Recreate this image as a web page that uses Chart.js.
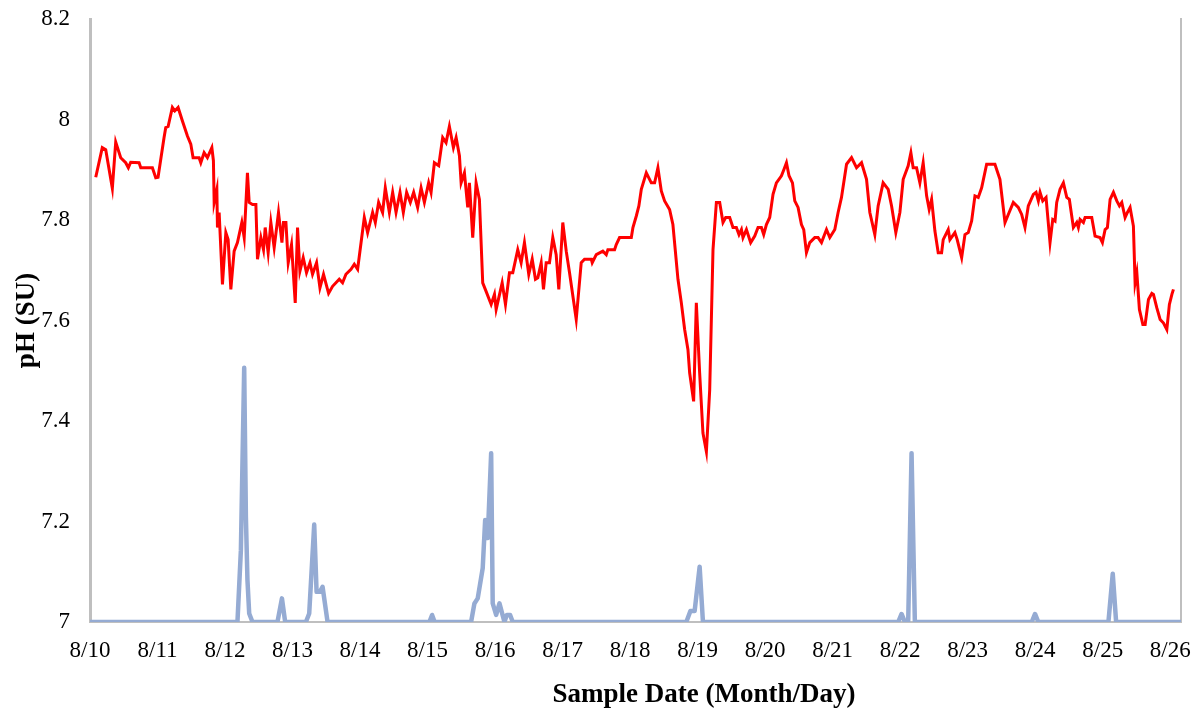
<!DOCTYPE html>
<html>
<head>
<meta charset="utf-8">
<script src="https://cdn.jsdelivr.net/npm/chart.js@4.4.1/dist/chart.umd.min.js"></script>
<style>
  html, body { margin: 0; padding: 0; background: #fff; }
  #wrap { width: 1196px; height: 716px; }
</style>
</head>
<body>
<div id="wrap"><canvas id="phChart" width="1196" height="716"></canvas></div>
<script>
// x values are days after 8/10 00:00
const dateLabels = ['8/10', '8/11', '8/12', '8/13', '8/14', '8/15', '8/16', '8/17', '8/18',
    '8/19', '8/20', '8/21', '8/22', '8/23', '8/24', '8/25', '8/26'];

const phDays = [0.085, 0.182, 0.233, 0.331, 0.381, 0.455, 0.529, 0.568, 0.603, 0.727, 0.752, 0.924, 0.974,
    1.008, 1.097, 1.122, 1.157, 1.220, 1.256, 1.305, 1.369, 1.443, 1.493, 1.527, 1.616, 1.641, 1.690, 1.739,
    1.805, 1.828, 1.839, 1.879, 1.888, 1.913, 1.962, 2.012, 2.046, 2.086, 2.135, 2.184, 2.249, 2.284, 2.332,
    2.358, 2.407, 2.457, 2.481, 2.531, 2.570, 2.595, 2.639, 2.679, 2.728, 2.792, 2.843, 2.866, 2.902, 2.936,
    2.985, 3.040, 3.074, 3.109, 3.158, 3.207, 3.258, 3.296, 3.356, 3.406, 3.459, 3.534, 3.593, 3.692, 3.741,
    3.791, 3.866, 3.915, 3.964, 4.063, 4.112, 4.186, 4.226, 4.275, 4.334, 4.374, 4.434, 4.483, 4.533, 4.592,
    4.641, 4.690, 4.745, 4.794, 4.853, 4.904, 4.953, 5.016, 5.052, 5.101, 5.165, 5.224, 5.274, 5.323, 5.383,
    5.423, 5.472, 5.497, 5.546, 5.595, 5.620, 5.669, 5.719, 5.768, 5.817, 5.867, 5.942, 5.991, 6.016, 6.105,
    6.154, 6.213, 6.262, 6.336, 6.386, 6.435, 6.499, 6.550, 6.598, 6.633, 6.683, 6.717, 6.757, 6.806, 6.855,
    6.905, 6.944, 7.003, 7.054, 7.103, 7.202, 7.276, 7.325, 7.425, 7.439, 7.499, 7.596, 7.647, 7.671, 7.770,
    7.795, 7.844, 8.018, 8.042, 8.092, 8.130, 8.166, 8.240, 8.314, 8.363, 8.412, 8.462, 8.511, 8.585, 8.634,
    8.709, 8.759, 8.808, 8.857, 8.882, 8.941, 8.981, 9.030, 9.079, 9.130, 9.179, 9.228, 9.278, 9.327, 9.376,
    9.416, 9.475, 9.524, 9.574, 9.613, 9.649, 9.672, 9.723, 9.786, 9.846, 9.895, 9.945, 9.979, 10.019, 10.068,
    10.117, 10.167, 10.242, 10.280, 10.316, 10.354, 10.405, 10.439, 10.488, 10.538, 10.572, 10.612, 10.661,
    10.735, 10.784, 10.835, 10.909, 10.958, 11.032, 11.081, 11.131, 11.206, 11.280, 11.354, 11.428, 11.502,
    11.551, 11.625, 11.674, 11.748, 11.823, 11.873, 11.936, 11.996, 12.045, 12.119, 12.159, 12.193, 12.243,
    12.292, 12.341, 12.392, 12.430, 12.466, 12.515, 12.564, 12.614, 12.638, 12.712, 12.737, 12.811, 12.845,
    12.911, 12.960, 13.009, 13.059, 13.108, 13.157, 13.207, 13.281, 13.404, 13.478, 13.553, 13.602, 13.676,
    13.750, 13.800, 13.849, 13.898, 13.973, 14.013, 14.047, 14.072, 14.112, 14.161, 14.220, 14.260, 14.294,
    14.319, 14.368, 14.418, 14.468, 14.506, 14.566, 14.616, 14.640, 14.665, 14.714, 14.739, 14.838, 14.887,
    14.961, 14.996, 15.036, 15.070, 15.110, 15.159, 15.209, 15.248, 15.283, 15.332, 15.366, 15.406, 15.455,
    15.480, 15.506, 15.544, 15.595, 15.629, 15.678, 15.728, 15.752, 15.802, 15.851, 15.901, 15.950, 15.988,
    16.025, 16.048];

const phValues = [7.885, 7.944, 7.940, 7.863, 7.955, 7.924, 7.914, 7.904, 7.915, 7.914, 7.904, 7.904, 7.884,
    7.885, 7.964, 7.984, 7.986, 8.024, 8.017, 8.024, 7.997, 7.967, 7.951, 7.924, 7.924, 7.914, 7.934, 7.924,
    7.944, 7.918, 7.835, 7.861, 7.785, 7.815, 7.672, 7.775, 7.761, 7.662, 7.738, 7.755, 7.795, 7.765, 7.894,
    7.835, 7.831, 7.831, 7.722, 7.765, 7.741, 7.785, 7.735, 7.795, 7.745, 7.815, 7.755, 7.795, 7.795, 7.715,
    7.751, 7.635, 7.785, 7.698, 7.725, 7.695, 7.715, 7.692, 7.715, 7.665, 7.692, 7.654, 7.668, 7.682, 7.675,
    7.692, 7.702, 7.712, 7.702, 7.805, 7.775, 7.815, 7.795, 7.835, 7.815, 7.864, 7.815, 7.855, 7.815, 7.855,
    7.815, 7.855, 7.835, 7.855, 7.825, 7.864, 7.835, 7.874, 7.855, 7.914, 7.908, 7.964, 7.954, 7.986, 7.944,
    7.964, 7.928, 7.874, 7.894, 7.825, 7.874, 7.765, 7.874, 7.841, 7.675, 7.658, 7.632, 7.652, 7.622, 7.675,
    7.632, 7.695, 7.695, 7.741, 7.715, 7.755, 7.692, 7.722, 7.682, 7.685, 7.715, 7.662, 7.715, 7.715, 7.765,
    7.731, 7.662, 7.795, 7.738, 7.695, 7.602, 7.715, 7.722, 7.722, 7.715, 7.731, 7.738, 7.731, 7.741, 7.741,
    7.751, 7.765, 7.765, 7.785, 7.808, 7.828, 7.861, 7.894, 7.874, 7.874, 7.904, 7.858, 7.838, 7.821, 7.791,
    7.682, 7.635, 7.582, 7.542, 7.496, 7.439, 7.635, 7.496, 7.376, 7.339, 7.462, 7.741, 7.835, 7.835, 7.795,
    7.805, 7.805, 7.785, 7.785, 7.771, 7.781, 7.765, 7.781, 7.755, 7.768, 7.785, 7.785, 7.771, 7.791, 7.805,
    7.851, 7.874, 7.888, 7.901, 7.914, 7.888, 7.874, 7.838, 7.825, 7.791, 7.781, 7.735, 7.755, 7.765,
    7.765, 7.755, 7.781, 7.765, 7.781, 7.815, 7.845, 7.911, 7.924, 7.904, 7.914, 7.881, 7.815, 7.771,
    7.828, 7.874, 7.861, 7.828, 7.775, 7.815, 7.881, 7.908, 7.934, 7.904, 7.904, 7.874, 7.914, 7.848,
    7.821, 7.841, 7.778, 7.735, 7.735, 7.761, 7.781, 7.761, 7.775, 7.761, 7.725, 7.771, 7.775, 7.798,
    7.848, 7.845, 7.864, 7.911, 7.911, 7.881, 7.795, 7.811, 7.835, 7.825, 7.811, 7.785, 7.828, 7.851,
    7.855, 7.838, 7.855, 7.838, 7.845, 7.755, 7.801, 7.798, 7.835, 7.861, 7.874, 7.845, 7.841, 7.785,
    7.795, 7.785, 7.801, 7.795, 7.805, 7.805, 7.768, 7.765, 7.755, 7.781, 7.785, 7.841, 7.855, 7.838,
    7.828, 7.835, 7.805, 7.815, 7.825, 7.788, 7.675, 7.695, 7.622, 7.592, 7.592, 7.642, 7.654, 7.652,
    7.625, 7.602, 7.595, 7.582, 7.632, 7.652, 7.662];

// blue trace drawn on the pH axis (baseline 7)
const rainDays = [0, 2.184, 2.235, 2.284, 2.309, 2.332, 2.358, 2.407, 2.777, 2.843, 2.891, 3.198, 3.247,
    3.321, 3.356, 3.406, 3.445, 3.519, 5.027, 5.067, 5.105, 5.645, 5.694, 5.743, 5.817, 5.853, 5.891, 5.942,
    5.965, 6.016, 6.065, 6.139, 6.173, 6.223, 6.262, 8.833, 8.893, 8.956, 9.030, 9.079, 11.971, 12.021,
    12.070, 12.119, 12.169, 12.218, 13.949, 13.998, 14.047, 15.085, 15.149, 15.199, 16.16];

const rainValues = [7, 7, 7.143, 7.506, 7.21, 7.084, 7.017, 7, 7, 7.047, 7, 7, 7.017,
    7.194, 7.06, 7.06, 7.07, 7, 7, 7.014, 7, 7, 7.037, 7.047, 7.107, 7.203, 7.167, 7.336,
    7.037, 7.014, 7.037, 7, 7.014, 7.014, 7, 7, 7.022, 7.022, 7.11, 7, 7, 7.016,
    7, 7, 7.336, 7, 7, 7.016, 7, 7, 7.096, 7, 7];

const xMax = 16.16;
const xTitle = 'Sample Date (Month/Day)';
const axisGray = '#BFBFBF';
const serif = "'Liberation Serif', 'Times New Roman', serif";

const toPoints = (xs, ys) => xs.map((x, i) => ({ x: x, y: ys[i] }));

// keep the plot box where the layout padding puts it
function noLabelPadding(scale) {
    scale.paddingTop = 0;
    scale.paddingBottom = 0;
    scale.paddingLeft = 0;
    scale.paddingRight = 0;
}

// the x title sits right of the plot centre in the original, so draw it by hand
const xTitlePlugin = {
    id: 'xTitle',
    afterDraw(chart) {
        const c = chart.ctx;
        c.save();
        c.font = 'bold 27px ' + serif;
        c.fillStyle = '#000';
        c.textAlign = 'center';
        c.textBaseline = 'middle';
        c.fillText(xTitle, 704, 695);
        c.restore();
    }
};

const ctx = document.getElementById('phChart').getContext('2d');
const chart = new Chart(ctx, {
    type: 'line',
    data: {
        datasets: [
            {
                label: 'pH',
                data: toPoints(phDays, phValues),
                borderColor: '#FF0000',
                borderWidth: 3,
                pointRadius: 0,
                tension: 0
            },
            {
                label: 'Rain',
                data: toPoints(rainDays, rainValues),
                borderColor: '#95ABD3',
                borderWidth: 4.5,
                borderJoinStyle: 'round',
                pointRadius: 0,
                tension: 0
            }
        ]
    },
    plugins: [xTitlePlugin],
    options: {
        responsive: false,
        animation: false,
        layout: { padding: { left: 0, right: 0, top: 19, bottom: 0 } },
        plugins: {
            legend: { display: false },
            tooltip: { enabled: false }
        },
        scales: {
            x: {
                type: 'linear',
                min: 0,
                max: xMax,
                afterFit: (scale) => { scale.height = 94; noLabelPadding(scale); },
                afterBuildTicks: (scale) => {
                    scale.ticks = dateLabels.map((_, i) => ({ value: i }));
                },
                grid: { display: false, drawTicks: false },
                border: { display: true, color: axisGray, width: 2 },
                ticks: {
                    padding: 15,
                    maxRotation: 0,
                    autoSkip: false,
                    color: '#000',
                    font: { family: serif, size: 23 },
                    callback: (v) => dateLabels[v]
                }
            },
            y: {
                min: 7,
                max: 8.2,
                afterFit: (scale) => { scale.width = 90; noLabelPadding(scale); },
                grid: { display: false, drawTicks: false },
                border: { display: true, color: axisGray, width: 3 },
                ticks: {
                    stepSize: 0.2,
                    padding: 20,
                    color: '#000',
                    font: { family: serif, size: 23 },
                    callback: (v) => String(Math.round(v * 10) / 10)
                },
                title: {
                    display: true,
                    text: 'pH (SU)',
                    color: '#000',
                    font: { family: serif, size: 27, weight: 'bold' },
                    padding: { top: 11, bottom: 0 }
                }
            },
            y2: {
                position: 'right',
                min: 0,
                max: 1,
                afterFit: (scale) => { scale.width = 15; noLabelPadding(scale); },
                grid: { display: false, drawTicks: false },
                border: { display: true, color: axisGray, width: 2 },
                ticks: { display: false }
            }
        }
    }
});
</script>
</body>
</html>
